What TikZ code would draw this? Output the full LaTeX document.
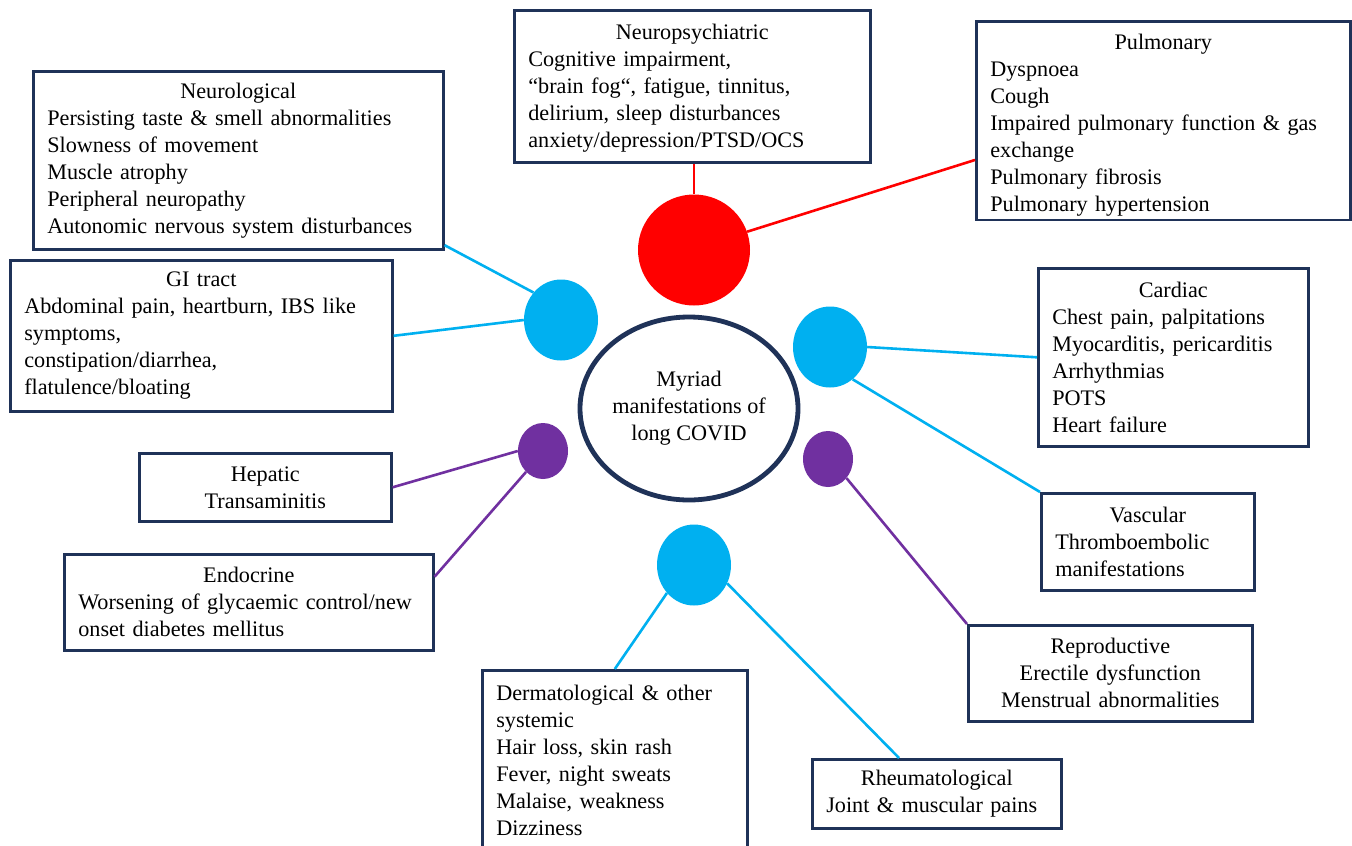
\documentclass[tikz,border=0pt]{standalone}
\usepackage{fontspec}
\setmainfont{Liberation Serif}
\usetikzlibrary{shapes.geometric,calc}
\definecolor{navy}{RGB}{31,50,88}
\definecolor{cblue}{RGB}{0,176,240}
\definecolor{cred}{RGB}{255,0,0}
\definecolor{cpurp}{RGB}{112,48,160}
\begin{document}
\begin{tikzpicture}[x=1pt,y=-1pt,
  cbox/.style={draw=navy, line width=2.6pt, fill=white, anchor=north west,
    inner xsep=14pt, inner ysep=4pt, align=left,
    font=\fontsize{22.2}{27}\selectfont},
  cboxc/.style={cbox, align=center},
  dot/.style={ellipse, inner sep=0pt, draw=none},
  conn/.style={line width=2.6pt}]
\fill[white] (0,0) rectangle (1352,846);
\useasboundingbox (0,0) rectangle (1352,846);
\clip (0,0) rectangle (1352,846);

% boxes
\node[cbox, minimum width=356pt, minimum height=152pt, text width=328pt] (np) at (513,9)
  {{\centering\rule{0pt}{19pt}Neuropsychiatric\par}Cognitive impairment,\\ “brain fog“, fatigue, tinnitus,\\ delirium, sleep disturbances\\ anxiety/depression/PTSD/OCS};
\node[cbox, minimum width=374pt, minimum height=197pt, text width=346pt] (pul) at (975,20)
  {{\centering\rule{0pt}{24pt}Pulmonary\par}Dyspnoea\\ Cough\\ Impaired pulmonary function \& gas\\ exchange\\ Pulmonary fibrosis\\ Pulmonary hypertension};
\node[cbox, minimum width=410pt, minimum height=178pt, text width=382pt] (neuro) at (32,70)
  {{\centering Neurological\par}Persisting taste \& smell abnormalities\\ Slowness of movement\\ Muscle atrophy\\ Peripheral neuropathy\\ Autonomic nervous system disturbances};
\node[cbox, minimum width=382pt, minimum height=151pt, text width=354pt] (gi) at (9,259)
  {{\centering GI tract\par}Abdominal pain, heartburn, IBS like\\ symptoms,\\ constipation/diarrhea,\\ flatulence/bloating};
\node[cbox, minimum width=270pt, minimum height=178pt, text width=242pt] (card) at (1037,267)
  {{\centering Cardiac\par}Chest pain, palpitations\\ Myocarditis, pericarditis\\ Arrhythmias\\ POTS\\ Heart failure};
\node[cbox, minimum width=213pt, minimum height=97pt, text width=185pt] (vasc) at (1040,492)
  {{\centering Vascular\par}Thromboembolic\\ manifestations};
\node[cboxc, minimum width=252pt, minimum height=68pt, text width=224pt] (hep) at (138,452)
  {Hepatic\\ Transaminitis};
\node[cbox, minimum width=369pt, minimum height=96pt, text width=341pt] (endo) at (63,553)
  {{\centering Endocrine\par}Worsening of glycaemic control/new\\ onset diabetes mellitus};
\node[cboxc, minimum width=284pt, minimum height=96pt, text width=256pt] (rep) at (967,624)
  {Reproductive\\ Erectile dysfunction\\ Menstrual abnormalities};
\node[cbox, minimum width=249pt, minimum height=69pt, text width=221pt] (rheum) at (811,758)
  {{\centering Rheumatological\par}Joint \& muscular pains};
\node[cbox, minimum width=265pt, minimum height=180pt, text width=237pt] (derm) at (481,669)
  {Dermatological \& other\\ systemic\\ Hair loss, skin rash\\ Fever, night sweats\\ Malaise, weakness\\ Dizziness};

% centre
\node[ellipse, draw=navy, line width=4.8pt, fill=white, inner sep=0pt,
  minimum width=218pt, minimum height=183pt, align=center,
  font=\fontsize{22.2}{27}\selectfont] (core) at (689,408.5)
  {Myriad\\ manifestations of\\ long COVID};

% dots
\node[dot, fill=cred, minimum width=112pt, minimum height=111pt] (red) at (694,250) {};
\node[dot, fill=cblue, minimum width=74pt, minimum height=81pt] (bl) at (561,320) {};
\node[dot, fill=cblue, minimum width=74pt, minimum height=81pt] (br) at (830,347) {};
\node[dot, fill=cblue, minimum width=74pt, minimum height=81pt] (bb) at (694,565) {};
\node[dot, fill=cpurp, minimum width=50pt, minimum height=56pt] (pl) at (543,451) {};
\node[dot, fill=cpurp, minimum width=50pt, minimum height=56pt] (pr) at (828,459) {};

% connectors
\draw[conn, cred] (red.north) -- (red.north |- np.south);
\draw[conn, cred] (red.19) -- ($(pul.north west)!0.695!(pul.south west)$);
\draw[conn, cblue] ($(neuro.north east)!0.97!(neuro.south east)$) -- (bl.135);
\draw[conn, cblue] (gi.east) -- (bl.west);
\draw[conn, cblue] (card.west) -- (br.east);
\draw[conn, cblue] (br.-55) -- (vasc.north west);
\draw[conn, cpurp] (hep.east) -- (pl.west);
\draw[conn, cpurp] ($(endo.north east)!0.24!(endo.south east)$) -- (pl.-129);
\draw[conn, cpurp] (pr.-46) -- (rep.north west);
\draw[conn, cblue] (bb.-134) -- (derm.north);
\draw[conn, cblue] (bb.-29) -- ($(rheum.north west)!0.35!(rheum.north east)$);
\end{tikzpicture}
\end{document}
